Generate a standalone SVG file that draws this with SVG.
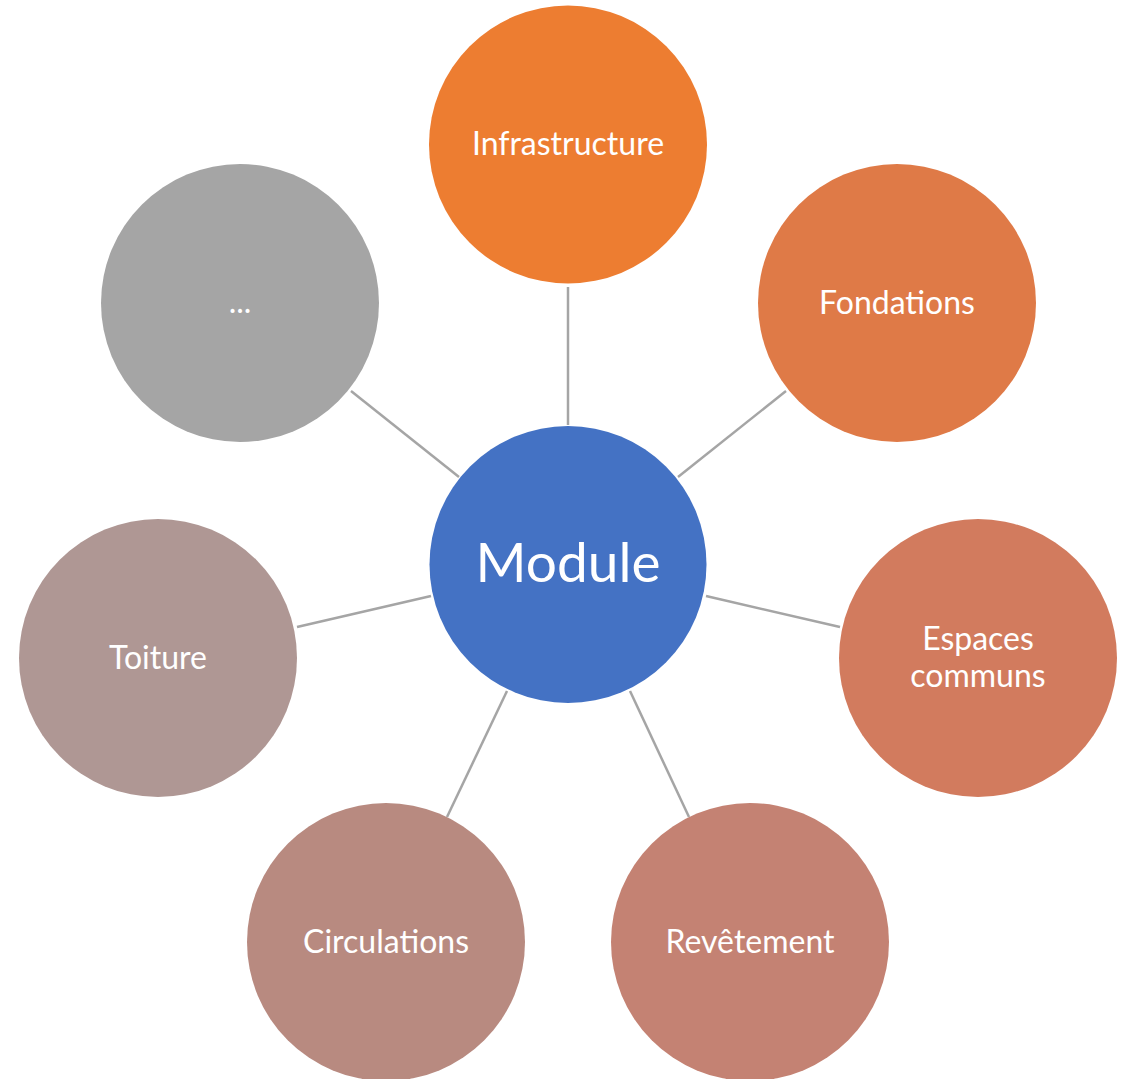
<svg xmlns="http://www.w3.org/2000/svg" width="1133" height="1079" viewBox="0 0 1133 1079">
<style>
.lbl{font-family:Lato,"Open Sans","Liberation Sans",sans-serif;font-size:32px;fill:#fff;text-anchor:middle}
.big{font-size:55px}
.conn line{stroke:#A5A5A5;stroke-width:2.5}
</style>
<rect width="1133" height="1079" fill="#fff"/>
<g id="connectors" class="conn">
<line x1="568" y1="287" x2="568" y2="425"/>
<line x1="786" y1="391" x2="678" y2="477"/>
<line x1="706" y1="596" x2="840" y2="627"/>
<line x1="630" y1="691" x2="689" y2="817"/>
<line x1="507" y1="691" x2="447" y2="817"/>
<line x1="431" y1="596" x2="297" y2="627"/>
<line x1="351" y1="391" x2="459" y2="477"/>
</g>
<g id="module"><circle cx="568" cy="564.5" r="138.5" fill="#4472C4"/><text class="lbl big" x="568" y="582">Module</text></g>
<g id="infrastructure"><circle cx="568" cy="144.5" r="139" fill="#ED7D31"/><text class="lbl" x="568" y="155">Infrastructure</text></g>
<g id="fondations"><circle cx="897" cy="303" r="139" fill="#DF7A47"/><text class="lbl" x="897" y="314">Fondations</text></g>
<g id="espaces"><circle cx="978" cy="658" r="139" fill="#D27B5E"/><text class="lbl" x="978" y="650">Espaces</text><text class="lbl" x="978" y="687">communs</text></g>
<g id="revetement"><circle cx="750" cy="942" r="139" fill="#C48273"/><text class="lbl" x="750" y="953">Revêtement</text></g>
<g id="circulations"><circle cx="386" cy="942" r="139" fill="#B88A80"/><text class="lbl" x="386" y="953">Circulations</text></g>
<g id="toiture"><circle cx="158" cy="658" r="139" fill="#AF9794"/><text class="lbl" x="158" y="669">Toiture</text></g>
<g id="more"><circle cx="240" cy="303" r="139" fill="#A5A5A5"/><text class="lbl" x="240" y="313">...</text></g>
</svg>
